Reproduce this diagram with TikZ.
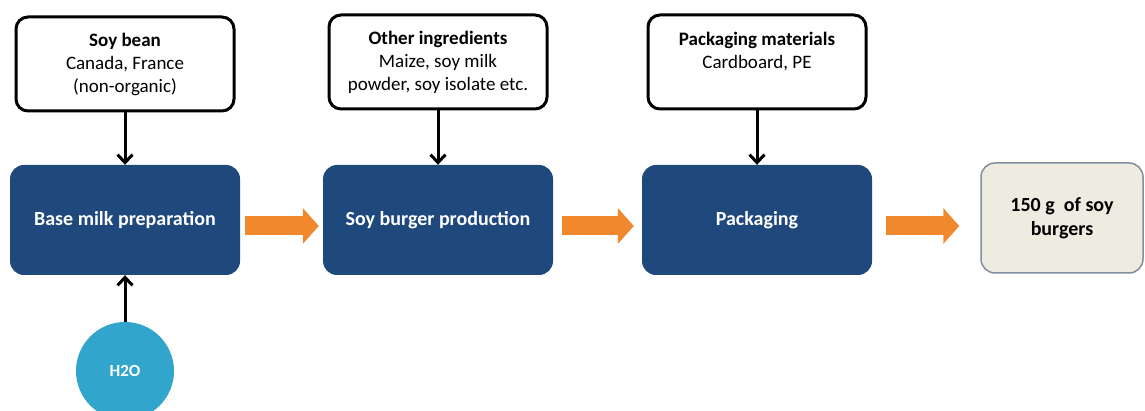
\documentclass[tikz,border=0pt]{standalone}
\usepackage{fontspec}
\setmainfont{Carlito}
\usepackage{tikz}
\usetikzlibrary{arrows.meta}
\definecolor{procblue}{RGB}{31,73,125}
\definecolor{waterblue}{RGB}{50,165,205}
\definecolor{flowor}{RGB}{241,136,46}
\definecolor{outfill}{RGB}{238,236,225}
\definecolor{outline}{RGB}{128,142,160}

\begin{document}
\begin{tikzpicture}[x=1pt,y=-1pt,
    inbox/.style={draw,fill=white,line width=3pt,rounded corners=12pt,minimum width=218pt,minimum height=94pt,align=center,font=\fontsize{19}{23}\selectfont},
    procbox/.style={fill=procblue,rounded corners=14pt,minimum width=230pt,minimum height=110pt,text=white,font=\bfseries\fontsize{20}{24}\selectfont},
    outbox/.style={draw=outline,fill=outfill,line width=1.5pt,rounded corners=14pt,minimum width=162pt,minimum height=110pt,align=center,font=\bfseries\fontsize{20}{24}\selectfont},
    wnode/.style={circle,fill=waterblue,minimum size=98pt,inner sep=0pt,text=white,font=\bfseries\fontsize{17}{20}\selectfont},
    blk/.style={line width=3pt,-{Straight Barb[length=8pt,width=15pt]}},
    flow/.style={draw=flowor,line width=19pt,-{Triangle[width=35pt,length=16pt]}}]
    \useasboundingbox (0,0) rectangle (1145,411);
    \clip (0,0) rectangle (1145,411);

    \node[inbox] (soy) at (125,64) {\textbf{Soy bean}\\Canada, France\\(non-organic)};
    \node[inbox] (other) at (438,62) {\textbf{Other ingredients}\\Maize, soy milk\\powder, soy isolate etc.};
    \node[inbox] (packmat) at (757,62) {\textbf{Packaging materials}\\Cardboard, PE\\\mbox{}};

    \node[procbox] (base) at (125,220) {Base milk preparation};
    \node[procbox] (burger) at (438,220) {Soy burger production};
    \node[procbox] (pack) at (757,220) {Packaging};
    \node[outbox] (out) at (1062,218) {150 g\ \ of soy\\burgers};

    \node[wnode] (h2o) at (125,371) {H2O};

    \draw[blk] (soy) edge (base) ;
    \draw[blk] (other) edge (burger) ;
    \draw[blk] (packmat) edge (pack) ;
    \draw[blk] (h2o) edge (base) ;

    \draw[flow,shorten <=5pt,shorten >=4pt] ([yshift=-6pt]base.east) -- ([yshift=-6pt]burger.west) ;
    \draw[flow,shorten <=9pt,shorten >=8pt] ([yshift=-6pt]burger.east) -- ([yshift=-6pt]pack.west) ;
    \draw[flow,shorten <=14pt,shorten >=21pt] ([yshift=-6pt]pack.east) -- ([yshift=-6pt]out.west |- pack.east) ;
\end{tikzpicture}
\end{document}
